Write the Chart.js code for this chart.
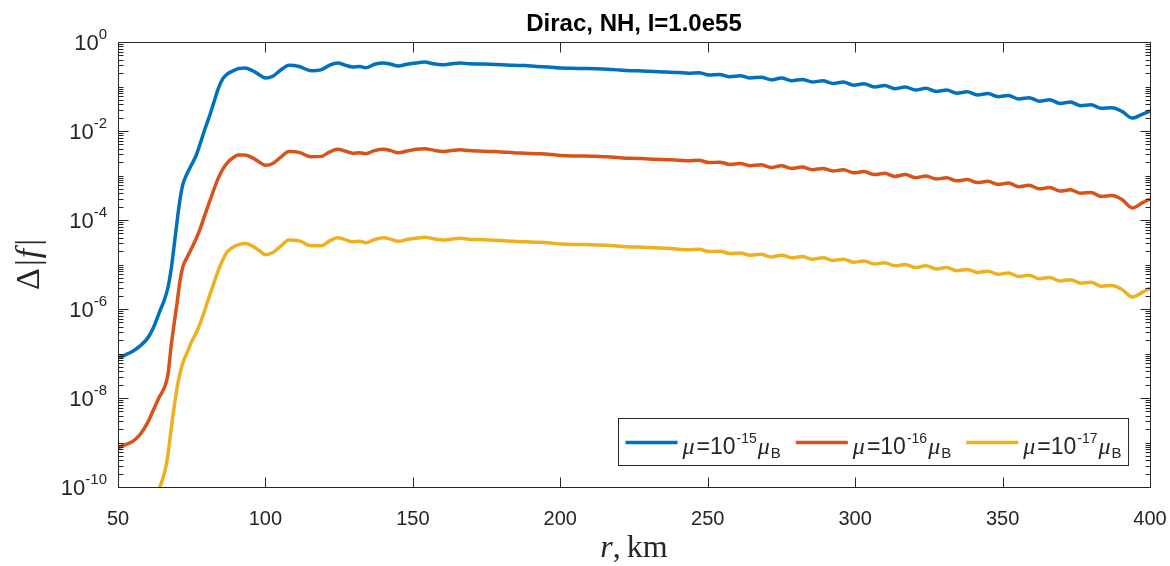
<!DOCTYPE html>
<html>
<head>
<meta charset="utf-8">
<script src="https://cdn.jsdelivr.net/npm/chart.js@4.4.0/dist/chart.umd.min.js"></script>
<style>
  html, body { margin: 0; padding: 0; background: #fff; }
  #wrap { width: 1170px; height: 566px; }
</style>
</head>
<body>
<div id="wrap"><canvas id="deltaChart" width="1170" height="566"></canvas></div>
<script>
// r, km (same grid for all three curves)
var r = [
  50, 52.5, 55, 57.5, 60, 62, 64, 66, 67, 68,
  69, 70, 71, 72, 73.5, 75, 76.5, 78, 79.5, 81,
  82.5, 84, 85.5, 87, 89, 91, 93, 95.5, 98, 100,
  102.5, 105, 108, 111.5, 115.5, 119, 121.5, 124.5, 127, 129.5,
  132, 134, 137, 140, 142.5, 145, 148, 151, 154, 157,
  160, 163, 166, 169, 172.5, 176, 180, 184, 188, 192,
  196, 200, 204, 208, 212, 216, 220, 224, 228, 232,
  236,
  240, 243.5, 247, 250.5, 254, 257.5, 261, 264.5, 268, 271.5,
  275, 278.5, 282, 285.5, 289, 292.5, 296, 299.5, 303, 306.5,
  310, 313.5, 317, 320.5, 324, 327.5, 331, 334.5, 338, 341.5,
  345, 348.5, 352, 355.5, 359, 362.5, 366, 369.5, 373, 376.5,
  380, 383.5, 387, 390.5, 394, 397.5, 400
];

// log10 of Delta|f|
var logMu15 = [
  -7.10, -7.03, -6.95, -6.83, -6.66, -6.42, -6.08, -5.74, -5.50, -5.12,
  -4.60, -4.05, -3.55, -3.20, -2.95, -2.75, -2.55, -2.26, -1.95, -1.67,
  -1.36, -1.05, -0.83, -0.72, -0.65, -0.595, -0.585, -0.64, -0.74, -0.81,
  -0.77, -0.64, -0.52, -0.55, -0.645, -0.62, -0.53, -0.47, -0.52, -0.56,
  -0.55, -0.58, -0.50, -0.47, -0.50, -0.54, -0.50, -0.47, -0.45, -0.49,
  -0.51, -0.49, -0.47, -0.49, -0.495, -0.50, -0.51, -0.525, -0.53, -0.55,
  -0.56, -0.585, -0.59, -0.595, -0.60, -0.61, -0.63, -0.645, -0.65, -0.665,
  -0.675,
  -0.685, -0.70, -0.69, -0.74, -0.73, -0.78, -0.76, -0.81, -0.79, -0.85,
  -0.81, -0.87, -0.84, -0.90, -0.87, -0.93, -0.90, -0.97, -0.94, -1.01,
  -0.98, -1.05, -1.01, -1.08, -1.04, -1.11, -1.08, -1.15, -1.12, -1.19,
  -1.16, -1.23, -1.20, -1.28, -1.25, -1.33, -1.30, -1.38, -1.35, -1.43,
  -1.41, -1.49, -1.48, -1.56, -1.71, -1.62, -1.55
];

var logMu16 = [
  -9.12, -9.05, -8.975, -8.82, -8.56, -8.27, -7.98, -7.72, -7.45, -6.84,
  -6.35, -5.88, -5.38, -5.05, -4.83, -4.63, -4.42, -4.17, -3.88, -3.60,
  -3.32, -3.06, -2.86, -2.72, -2.60, -2.54, -2.54, -2.60, -2.70, -2.77,
  -2.73, -2.60, -2.46, -2.48, -2.58, -2.57, -2.48, -2.41, -2.45, -2.50,
  -2.49, -2.51, -2.44, -2.41, -2.44, -2.49, -2.45, -2.41, -2.40, -2.43,
  -2.46, -2.44, -2.42, -2.44, -2.45, -2.46, -2.47, -2.49, -2.50, -2.51,
  -2.52, -2.55, -2.56, -2.56, -2.57, -2.58, -2.60, -2.615, -2.62, -2.635,
  -2.645,
  -2.655, -2.67, -2.66, -2.71, -2.70, -2.75, -2.73, -2.78, -2.76, -2.82,
  -2.78, -2.84, -2.81, -2.87, -2.84, -2.90, -2.87, -2.94, -2.91, -2.98,
  -2.95, -3.02, -2.98, -3.05, -3.01, -3.08, -3.05, -3.12, -3.09, -3.16,
  -3.13, -3.20, -3.17, -3.25, -3.22, -3.30, -3.27, -3.35, -3.32, -3.40,
  -3.38, -3.47, -3.45, -3.54, -3.73, -3.61, -3.53
];

var logMu17 = [
  -12.5, -12.1, -11.7, -11.3, -10.9, -10.45, -10.04, -9.62, -9.25, -8.71,
  -8.22, -7.78, -7.45, -7.21, -6.97, -6.73, -6.54, -6.30, -6.01, -5.71,
  -5.42, -5.14, -4.90, -4.72, -4.61, -4.555, -4.53, -4.58, -4.69, -4.78,
  -4.73, -4.60, -4.45, -4.47, -4.58, -4.58, -4.48, -4.40, -4.44, -4.49,
  -4.48, -4.51, -4.44, -4.40, -4.43, -4.48, -4.44, -4.41, -4.39, -4.42,
  -4.45, -4.43, -4.41, -4.43, -4.44, -4.45, -4.46, -4.48, -4.49, -4.50,
  -4.51, -4.54, -4.55, -4.55, -4.56, -4.57, -4.59, -4.605, -4.61, -4.625,
  -4.635,
  -4.655, -4.67, -4.66, -4.71, -4.70, -4.75, -4.74, -4.79, -4.77, -4.83,
  -4.79, -4.85, -4.82, -4.88, -4.85, -4.91, -4.88, -4.95, -4.92, -4.99,
  -4.96, -5.03, -5.00, -5.07, -5.03, -5.10, -5.07, -5.14, -5.11, -5.18,
  -5.15, -5.22, -5.19, -5.27, -5.24, -5.32, -5.29, -5.37, -5.34, -5.42,
  -5.40, -5.49, -5.47, -5.56, -5.73, -5.62, -5.53
];

var xTicks = [50, 100, 150, 200, 250, 300, 350, 400];
var yDecades = [0, -2, -4, -6, -8, -10];
var muExponents = ["-15", "-16", "-17"];
var lineColors = ["#0072BD", "#D95319", "#EDB120"];

var axisColor = "#262626";
var sans = '"Liberation Sans", Arial, Helvetica, sans-serif';
var serif = '"Liberation Serif", "DejaVu Serif", serif';

function toPoints(logs) {
  var pts = [];
  for (var i = 0; i < r.length; i++) {
    pts.push({ x: r[i], y: Math.pow(10, logs[i]) });
  }
  return pts;
}

// draws a list of text pieces with their own font and vertical shift
function drawRuns(ctx, runs, x, y, measureOnly) {
  var w = 0;
  runs.forEach(function(run) {
    ctx.font = run.font;
    if (!measureOnly) ctx.fillText(run.text, x + w, y + (run.dy || 0));
    w += ctx.measureText(run.text).width + (run.gap || 0);
  });
  return w;
}

var matlabAxes = {
  id: "matlabAxes",
  afterDatasetsDraw: function(chart) {
    var ctx = chart.ctx;
    var a = chart.chartArea;
    var xs = chart.scales.x, ys = chart.scales.y;
    ctx.save();
    ctx.strokeStyle = axisColor;
    ctx.fillStyle = axisColor;
    ctx.lineWidth = 1;

    var L = Math.round(a.left) + 0.5, R = Math.round(a.right) + 0.5;
    var T = Math.round(a.top) + 0.5, B = Math.round(a.bottom) + 0.5;

    // ticks pointing inwards
    ctx.beginPath();
    xTicks.forEach(function(v) {
      var px = Math.round(xs.getPixelForValue(v)) + 0.5;
      ctx.moveTo(px, B); ctx.lineTo(px, B - 10);
      ctx.moveTo(px, T); ctx.lineTo(px, T + 10);
    });
    for (var e = -10; e <= 0; e++) {
      for (var k = 1; k <= 9; k++) {
        if (e === 0 && k > 1) break;
        var py = Math.round(ys.getPixelForValue(k * Math.pow(10, e))) + 0.5;
        var len = (k === 1 && e % 2 === 0) ? 10 : 5;
        ctx.moveTo(L, py); ctx.lineTo(L + len, py);
        ctx.moveTo(R, py); ctx.lineTo(R - len, py);
      }
    }
    ctx.stroke();
    ctx.strokeRect(L, T, R - L, B - T);

    // x tick labels
    ctx.font = "20px " + sans;
    ctx.textAlign = "center";
    ctx.textBaseline = "alphabetic";
    xTicks.forEach(function(v) {
      ctx.fillText(String(v), xs.getPixelForValue(v), a.bottom + 38);
    });

    // y tick labels 10^n
    ctx.textAlign = "left";
    yDecades.forEach(function(e) {
      var py = ys.getPixelForValue(Math.pow(10, e));
      var runs = [
        { text: "10", font: "22px " + sans, dy: 8 },
        { text: String(e), font: "15px " + sans, dy: -3 }
      ];
      var w = drawRuns(ctx, runs, 0, 0, true);
      drawRuns(ctx, runs, a.left - 11 - w, py);
    });

    // title
    ctx.textAlign = "center";
    ctx.font = "bold 24px " + sans;
    ctx.fillStyle = "#000";
    ctx.fillText("Dirac, NH, I=1.0e55", (a.left + a.right) / 2, 31);
    ctx.fillStyle = axisColor;

    // x axis title: r, km
    ctx.textAlign = "left";
    var xRuns = [
      { text: "r", font: "italic 32px " + serif },
      { text: ",", font: "32px " + serif, gap: 6 },
      { text: "km", font: "32px " + serif }
    ];
    var xw = drawRuns(ctx, xRuns, 0, 0, true);
    drawRuns(ctx, xRuns, (a.left + a.right) / 2 - xw / 2, a.bottom + 70);

    // y axis title: Delta|f|
    ctx.save();
    ctx.translate(39, (a.top + a.bottom) / 2);
    ctx.rotate(-Math.PI / 2);
    var yRuns = [
      { text: "\u0394", font: "34px " + serif, gap: 2 },
      { text: "|", font: "34px " + serif, gap: 1 },
      { text: "f", font: "italic 34px " + serif, gap: 3 },
      { text: "|", font: "34px " + serif }
    ];
    var yw = drawRuns(ctx, yRuns, 0, 0, true);
    drawRuns(ctx, yRuns, -yw / 2, 0);
    ctx.restore();

    // legend
    var entries = muExponents.map(function(ex) {
      return [
        { text: "\u03bc", font: "italic 24px " + serif, gap: 2 },
        { text: "=10", font: "23px " + sans, gap: 1 },
        { text: ex, font: "14px " + sans, dy: -11, gap: 1 },
        { text: "\u03bc", font: "italic 24px " + serif, gap: 1 },
        { text: "B", font: "15px " + sans, dy: 4 }
      ];
    });
    var lineLen = 52, pad = 7, gapText = 5, gapEntry = 15;
    var widths = entries.map(function(runs) { return drawRuns(ctx, runs, 0, 0, true); });
    var boxW = pad * 2;
    widths.forEach(function(w, i) { boxW += lineLen + gapText + w + (i < widths.length - 1 ? gapEntry : 0); });
    var boxH = 47;
    var bx = Math.round(a.right - 22 - boxW) + 0.5;
    var by = Math.round(a.bottom - 22 - boxH) + 0.5;
    ctx.fillStyle = "#fff";
    ctx.fillRect(bx, by, boxW, boxH);
    ctx.strokeStyle = axisColor;
    ctx.lineWidth = 1;
    ctx.strokeRect(bx, by, boxW, boxH);
    var cx = bx + pad;
    var ly = by + 24;
    entries.forEach(function(runs, i) {
      ctx.strokeStyle = lineColors[i];
      ctx.lineWidth = 3.5;
      ctx.beginPath();
      ctx.moveTo(cx, ly); ctx.lineTo(cx + lineLen, ly);
      ctx.stroke();
      ctx.fillStyle = axisColor;
      drawRuns(ctx, runs, cx + lineLen + gapText, ly + 11);
      cx += lineLen + gapText + widths[i] + gapEntry;
    });
    ctx.restore();
  }
};

new Chart(document.getElementById("deltaChart"), {
  type: "line",
  data: {
    datasets: [
      { label: "mu15", data: toPoints(logMu15), borderColor: lineColors[0] },
      { label: "mu16", data: toPoints(logMu16), borderColor: lineColors[1] },
      { label: "mu17", data: toPoints(logMu17), borderColor: lineColors[2] }
    ]
  },
  options: {
    responsive: false,
    animation: false,
    layout: { padding: { left: 118, right: 20, top: 42, bottom: 79 } },
    elements: {
      line: { borderWidth: 3.5, cubicInterpolationMode: "monotone", fill: false },
      point: { radius: 0, hoverRadius: 0 }
    },
    scales: {
      x: { type: "linear", min: 50, max: 400, display: false },
      y: { type: "logarithmic", min: 1e-10, max: 1, display: false }
    },
    plugins: {
      legend: { display: false },
      title: { display: false },
      tooltip: { enabled: false }
    }
  },
  plugins: [matlabAxes]
});
</script>
</body>
</html>
